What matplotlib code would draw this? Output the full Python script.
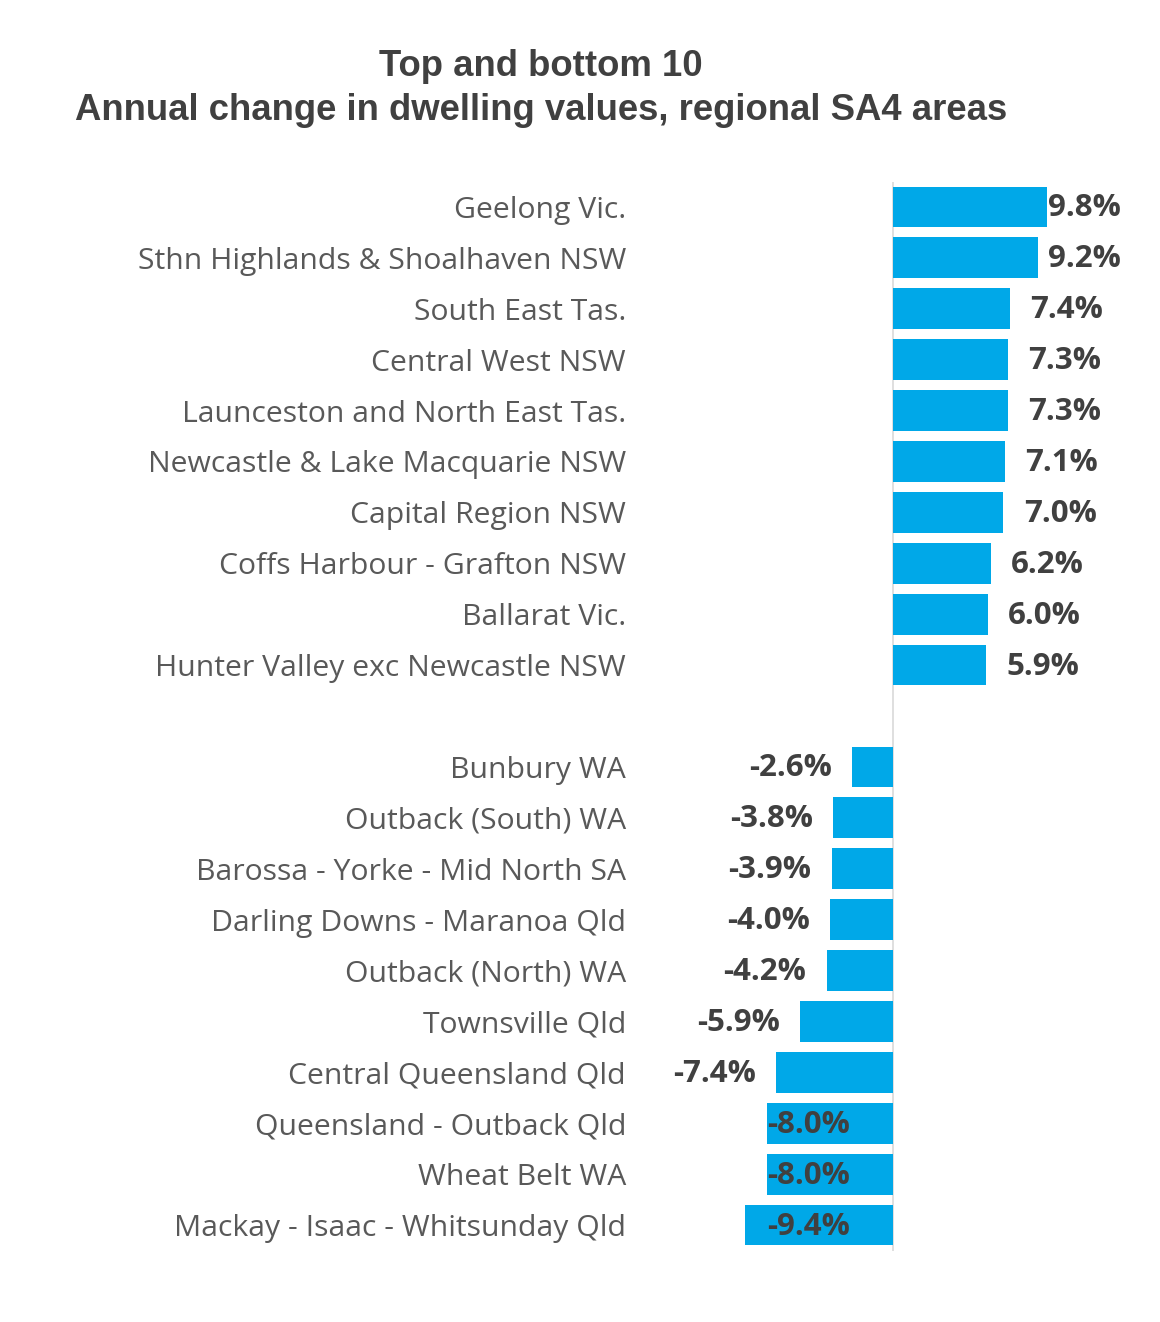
import matplotlib
matplotlib.use("Agg")
import matplotlib.pyplot as plt

categories = [
    "Geelong Vic.", "Sthn Highlands & Shoalhaven NSW", "South East Tas.",
    "Central West NSW", "Launceston and North East Tas.",
    "Newcastle & Lake Macquarie NSW", "Capital Region NSW",
    "Coffs Harbour - Grafton NSW", "Ballarat Vic.",
    "Hunter Valley exc Newcastle NSW", "",
    "Bunbury WA", "Outback (South) WA", "Barossa - Yorke - Mid North SA",
    "Darling Downs - Maranoa Qld", "Outback (North) WA", "Townsville Qld",
    "Central Queensland Qld", "Queensland - Outback Qld", "Wheat Belt WA",
    "Mackay - Isaac - Whitsunday Qld",
]
values = [9.8, 9.2, 7.4, 7.3, 7.3, 7.1, 7.0, 6.2, 6.0, 5.9, None,
          -2.6, -3.8, -3.9, -4.0, -4.2, -5.9, -7.4, -8.0, -8.0, -9.4]

W, H = 1160, 1322
fig = plt.figure(figsize=(W / 100, H / 100), dpi=100)
ax_l, ax_r = 640, 1140
y_top, y_bot = 181.5, 1250.5
ax = fig.add_axes([ax_l / W, 1 - y_bot / H, (ax_r - ax_l) / W, (y_bot - y_top) / H])

scale = 15.75
ax.set_xlim((ax_l - 893) / scale, (ax_r - 893) / scale)
n = len(categories)
ax.set_ylim(n - 0.5, -0.5)

bar_color = "#00A8E8"
ys = [i for i, v in enumerate(values) if v is not None]
vs = [v for v in values if v is not None]
ax.barh(ys, vs, height=0.8, color=bar_color, zorder=2)
ax.axvline(0, color="#D9D9D9", lw=1.2, zorder=1)

for y, v in zip(ys, vs):
    txt = f"{v:.1f}%"
    kw = dict(va="center", fontsize=22.5, fontweight="bold", color="#404040",
              family=["Open Sans", "DejaVu Sans"], zorder=3)
    if v > 0:
        ax.text(min(v + 1.3, 9.85), y + 0.03, txt, ha="left", **kw)
    elif v > -7.6:
        ax.text(v - 1.3, y + 0.03, txt, ha="right", **kw)
    else:
        ax.text(-8.0, y + 0.03, txt, ha="left", **kw)

ax.set_yticks(range(n))
ax.set_yticklabels(categories, fontsize=21.7, color="#595959",
                   family=["Open Sans", "DejaVu Sans"])
ax.tick_params(axis="y", length=0, pad=10)
ax.set_xticks([])
for s in ax.spines.values():
    s.set_visible(False)

tkw = dict(ha="center", va="center", fontsize=26.3, fontweight="bold",
           color="#404040", family=["Liberation Sans", "DejaVu Sans"])
fig.text(541 / W, 1 - 66 / H, "Top and bottom 10", **tkw)
fig.text(541 / W, 1 - 110 / H, "Annual change in dwelling values, regional SA4 areas", **tkw)

fig.savefig("out.png", dpi=100, facecolor="white")
